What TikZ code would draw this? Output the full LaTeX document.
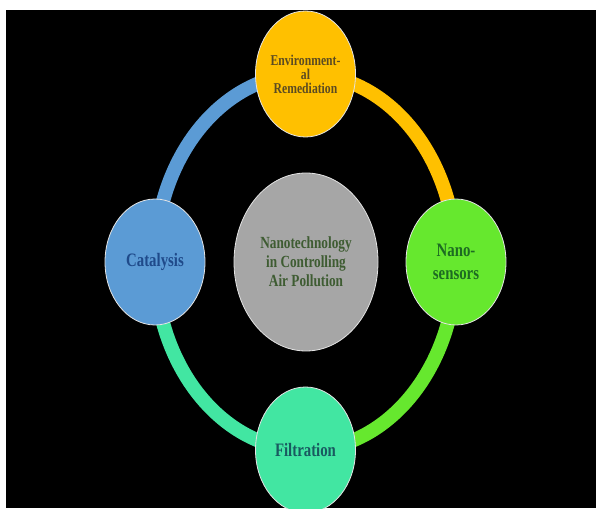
\documentclass[tikz,border=0pt]{standalone}
\usepackage{fontspec}
\newfontfamily\diagfont[FakeStretch=0.78]{Liberation Serif}
\usepackage{tikz}
\usetikzlibrary{shapes.geometric,backgrounds}

\definecolor{envgold}{HTML}{FFC000}
\definecolor{catblue}{HTML}{5B9BD5}
\definecolor{nanogreen}{HTML}{66E82E}
\definecolor{filtmint}{HTML}{42E6A2}
\definecolor{coregray}{HTML}{A6A6A6}
\definecolor{rimgray}{HTML}{E4E4E4}
\definecolor{envtext}{HTML}{5B4B22}
\definecolor{cattext}{HTML}{1F4A8A}
\definecolor{nanotext}{HTML}{1D6B22}
\definecolor{filttext}{HTML}{195A60}
\definecolor{coretext}{HTML}{3E5C32}

\begin{document}
\begin{tikzpicture}[x=1pt,y=1pt,
	bubble/.style={ellipse, draw=rimgray, line width=0.8pt, inner sep=0pt,
		minimum width=100pt, minimum height=126pt, align=center,
		font=\diagfont\bfseries\fontsize{19}{23}\selectfont},
	ring/.style={draw=#1, line width=14pt}]
			\useasboundingbox (0,0) rectangle (596,508);
			%draw black panel
			\begin{scope}[on background layer]
				\fill[white] (0,0) rectangle (596,508);
				\fill[black] (6,0) rectangle (596,498);
			\end{scope}
			%draw nodes
			\node[bubble, fill=envgold, text=envtext,
				font=\diagfont\bfseries\fontsize{15}{14}\selectfont] (env) at (305.5,434) {Environment-\\al\\Remediation};
			\node[bubble, fill=catblue, text=cattext] (cat) at (155,246) {Catalysis};
			\node[bubble, fill=nanogreen, text=nanotext] (nano) at (456,246) {Nano-\\sensors};
			\node[bubble, fill=filtmint, text=filttext] (filt) at (305.5,58) {Filtration};
			\node[bubble, fill=coregray, text=coretext, minimum width=144pt, minimum height=178pt,
				font=\diagfont\bfseries\fontsize{17}{19}\selectfont] (core) at (306,246) {Nanotechnology\\in Controlling\\Air Pollution};
			%draw ring
			\begin{scope}[on background layer]
				\draw[ring=envgold] (env.center) arc[start angle=90, end angle=0, x radius=150.5, y radius=188];
				\draw[ring=nanogreen] (nano.center) arc[start angle=0, end angle=-90, x radius=150.5, y radius=188];
				\draw[ring=filtmint] (filt.center) arc[start angle=270, end angle=180, x radius=150.5, y radius=188];
				\draw[ring=catblue] (cat.center) arc[start angle=180, end angle=90, x radius=150.5, y radius=188];
			\end{scope}
			\end{tikzpicture}
\end{document}
